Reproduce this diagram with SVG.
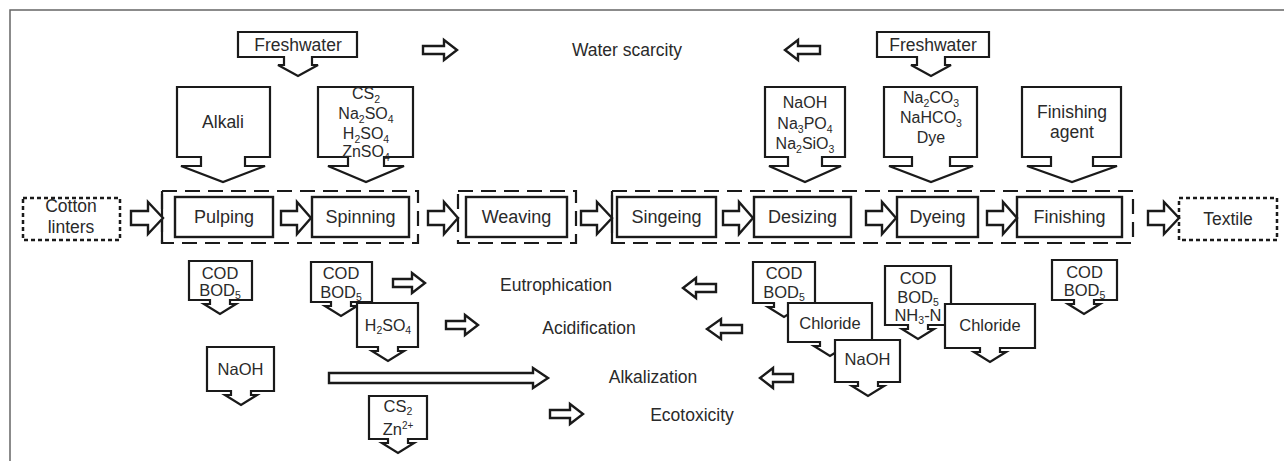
<svg xmlns="http://www.w3.org/2000/svg" width="1284" height="461" viewBox="0 0 1284 461">
<style>
.t{font-family:"Liberation Sans",Arial,sans-serif;fill:#2a2a2a;text-anchor:middle}
.f17{font-size:17.5px}
.f18{font-size:18px}
.f16{font-size:16px}
.f165{font-size:16.5px}
.sub{font-size:10.5px}
.sup{font-size:10px}
.box{fill:#fff;stroke:#1a1a1a;stroke-width:2.4}
.call{fill:#fff;stroke:#1a1a1a;stroke-width:2.2;stroke-linejoin:miter}
.grp{fill:none;stroke:#1a1a1a;stroke-width:2.2;stroke-dasharray:15 8}
.solid{fill:none;stroke:#1a1a1a;stroke-width:2.2}
.dot{fill:#fff;stroke:#1a1a1a;stroke-width:2.5;stroke-dasharray:4 3}
.arr{fill:#fff;stroke:#1a1a1a;stroke-width:2.4;stroke-linejoin:miter}
</style>
<rect width="1284" height="461" fill="#fff"/>
<polyline points="10,461 10,10 1284,10" fill="none" stroke="#666" stroke-width="1.5"/>

<!-- groups -->
<g id="group-1">
<rect class="grp" x="162" y="191" width="256" height="52"/>
<line class="solid" x1="162" y1="191" x2="162" y2="243"/>
</g>
<g id="group-2">
<rect class="grp" x="458" y="191" width="118" height="52"/>
</g>
<g id="group-3">
<rect class="grp" x="612" y="191" width="521" height="52"/>
<line class="solid" x1="612" y1="191" x2="612" y2="243"/>
</g>

<!-- top inputs -->
<g id="freshwater-left">
<path class="call" d="M238,32 H357 V57 H312 V65 H318 L298,76 L278,65 H284 V57 H238 Z"/>
<text class="t f17" x="298" y="51">Freshwater</text>
</g>
<g id="freshwater-right">
<path class="call" d="M877,32 H989 V57 H945 V65 H951 L931,76 L911,65 H917 V57 H877 Z"/>
<text class="t f17" x="933" y="51">Freshwater</text>
</g>
<g id="alkali">
<path class="call" d="M177,87 H270 V157 H245 V166 H265 L223,182 L181,166 H201 V157 H177 Z"/>
<text class="t f17" x="223" y="128">Alkali</text>
</g>
<g id="spinning-chem">
<path class="call" d="M318,87 H413 V157 H384 V166 H404 L366,182 L328,166 H348 V157 H318 Z"/>
<text class="t f16" x="366" y="99">CS<tspan class="sub" dy="4">2</tspan></text>
<text class="t f16" x="366" y="119">Na<tspan class="sub" dy="4">2</tspan><tspan dy="-4">SO</tspan><tspan class="sub" dy="4">4</tspan></text>
<text class="t f16" x="366" y="139">H<tspan class="sub" dy="4">2</tspan><tspan dy="-4">SO</tspan><tspan class="sub" dy="4">4</tspan></text>
<text class="t f16" x="366" y="157">ZnSO<tspan class="sub" dy="4">4</tspan></text>
</g>
<g id="desizing-chem">
<path class="call" d="M765,87 H845 V157 H822 V166 H841 L805,182 L769,166 H788 V157 H765 Z"/>
<text class="t f16" x="805" y="108">NaOH</text>
<text class="t f16" x="805" y="129">Na<tspan class="sub" dy="4">3</tspan><tspan dy="-4">PO</tspan><tspan class="sub" dy="4">4</tspan></text>
<text class="t f16" x="805" y="149">Na<tspan class="sub" dy="4">2</tspan><tspan dy="-4">SiO</tspan><tspan class="sub" dy="4">3</tspan></text>
</g>
<g id="dyeing-chem">
<path class="call" d="M884,87 H977 V157 H950 V166 H973 L931,182 L889,166 H912 V157 H884 Z"/>
<text class="t f16" x="931" y="103">Na<tspan class="sub" dy="4">2</tspan><tspan dy="-4">CO</tspan><tspan class="sub" dy="4">3</tspan></text>
<text class="t f16" x="931" y="123">NaHCO<tspan class="sub" dy="4">3</tspan></text>
<text class="t f16" x="931" y="143">Dye</text>
</g>
<g id="finishing-agent">
<path class="call" d="M1022,87 H1121 V157 H1093 V166 H1117 L1072,182 L1027,166 H1051 V157 H1022 Z"/>
<text class="t f17" x="1072" y="118">Finishing</text>
<text class="t f17" x="1072" y="138">agent</text>
</g>

<!-- process row -->
<g id="cotton-linters">
<rect class="dot" x="23" y="198" width="97" height="42"/>
<text class="t f17" x="71" y="212">Cotton</text>
<text class="t f17" x="71" y="233">linters</text>
</g>
<g id="pulping"><rect class="box" x="175" y="197" width="98" height="40"/><text class="t f18" x="224" y="223">Pulping</text></g>
<g id="spinning"><rect class="box" x="312" y="197" width="97" height="40"/><text class="t f18" x="360.5" y="223">Spinning</text></g>
<g id="weaving"><rect class="box" x="466" y="197" width="101" height="40"/><text class="t f18" x="516.5" y="223">Weaving</text></g>
<g id="singeing"><rect class="box" x="617" y="197" width="99" height="40"/><text class="t f18" x="666.5" y="223">Singeing</text></g>
<g id="desizing"><rect class="box" x="754" y="197" width="97" height="40"/><text class="t f18" x="802.5" y="223">Desizing</text></g>
<g id="dyeing"><rect class="box" x="897" y="197" width="81" height="40"/><text class="t f18" x="937.5" y="223">Dyeing</text></g>
<g id="finishing"><rect class="box" x="1017" y="197" width="105" height="40"/><text class="t f18" x="1069.5" y="223">Finishing</text></g>
<g id="textile">
<rect class="dot" x="1179" y="198" width="98" height="42"/>
<text class="t f17" x="1228" y="225">Textile</text>
</g>

<!-- impact labels -->
<g id="water-scarcity"><text class="t f17" x="627" y="56">Water scarcity</text></g>
<g id="eutrophication"><text class="t f17" x="556" y="291">Eutrophication</text></g>
<g id="acidification"><text class="t f17" x="589" y="334">Acidification</text></g>
<g id="alkalization"><text class="t f17" x="653" y="383">Alkalization</text></g>
<g id="ecotoxicity"><text class="t f17" x="692" y="421">Ecotoxicity</text></g>

<!-- emissions -->
<g id="cod-pulping">
<path class="call" d="M189,261 H252 V300 H230 V304 H236 L220,314 L204,304 H210 V300 H189 Z"/>
<text class="t f165" x="220" y="279">COD</text>
<text class="t f165" x="220" y="296">BOD<tspan class="sub" dy="3">5</tspan></text>
</g>
<g id="naoh-pulping">
<path class="call" d="M207,347 H274 V391 H251 V395 H257 L241,405 L225,395 H231 V391 H207 Z"/>
<text class="t f165" x="240.5" y="375">NaOH</text>
</g>
<g id="cod-spinning">
<path class="call" d="M311,262 H372 V302 H351 V306 H357 L341,316 L325,306 H331 V302 H311 Z"/>
<text class="t f165" x="341" y="279">COD</text>
<text class="t f165" x="341" y="298">BOD<tspan class="sub" dy="3">5</tspan></text>
</g>
<g id="h2so4-spinning">
<path class="call" d="M357,303 H418 V347 H398 V351 H404 L388,361 L372,351 H378 V347 H357 Z"/>
<text class="t f16" x="388" y="331">H<tspan class="sub" dy="3">2</tspan><tspan dy="-3">SO</tspan><tspan class="sub" dy="3">4</tspan></text>
</g>
<g id="cs2-spinning">
<path class="call" d="M369,396 H427 V439 H408 V443 H414 L398,453 L382,443 H388 V439 H369 Z"/>
<text class="t f165" x="398" y="412">CS<tspan class="sub" dy="3">2</tspan></text>
<text class="t f165" x="398" y="435">Zn<tspan class="sup" dy="-6">2+</tspan></text>
</g>
<g id="cod-desizing">
<path class="call" d="M753,262 H815 V303 H794 V307 H800 L784,317 L768,307 H774 V303 H753 Z"/>
<text class="t f165" x="784" y="279">COD</text>
<text class="t f165" x="784" y="298">BOD<tspan class="sub" dy="3">5</tspan></text>
</g>
<g id="chloride-desizing">
<path class="call" d="M788,303 H872 V342 H840 V346 H846 L830,356 L814,346 H820 V342 H788 Z"/>
<text class="t f165" x="830" y="329">Chloride</text>
</g>
<g id="naoh-desizing">
<path class="call" d="M835,340 H900 V382 H878 V386 H884 L868,396 L852,386 H858 V382 H835 Z"/>
<text class="t f165" x="867.5" y="365">NaOH</text>
</g>
<g id="cod-dyeing">
<path class="call" d="M885,266 H951 V325 H928 V329 H934 L918,339 L902,329 H908 V325 H885 Z"/>
<text class="t f165" x="918" y="284">COD</text>
<text class="t f165" x="918" y="303">BOD<tspan class="sub" dy="3">5</tspan></text>
<text class="t f165" x="918" y="321">NH<tspan class="sub" dy="3">3</tspan><tspan dy="-3">-N</tspan></text>
</g>
<g id="chloride-dyeing">
<path class="call" d="M945,304 H1035 V348 H1000 V352 H1006 L990,362 L974,352 H980 V348 H945 Z"/>
<text class="t f165" x="990" y="331">Chloride</text>
</g>
<g id="cod-finishing">
<path class="call" d="M1052,260 H1117 V300 H1094 V304 H1100 L1084,314 L1068,304 H1074 V300 H1052 Z"/>
<text class="t f165" x="1084.5" y="278">COD</text>
<text class="t f165" x="1084.5" y="296">BOD<tspan class="sub" dy="3">5</tspan></text>
</g>

<!-- connectors -->
<g id="connectors">
<path class="arr" d="M423,46 H444 V40 L457,50 L444,60 V54 H423 Z"/>
<path class="arr" d="M820,46 H798 V40 L785,50 L798,60 V54 H820 Z"/>
<path class="arr" d="M131,211 H148 V202 L163,218 L148,234 V225 H131 Z"/>
<path class="arr" d="M281,211 H297 V202 L311,218 L297,234 V225 H281 Z"/>
<path class="arr" d="M428,211 H444 V202 L458,218 L444,234 V225 H428 Z"/>
<path class="arr" d="M581,211 H597 V202 L612,218 L597,234 V225 H581 Z"/>
<path class="arr" d="M723,211 H739 V202 L753,218 L739,234 V225 H723 Z"/>
<path class="arr" d="M866,211 H882 V202 L896,218 L882,234 V225 H866 Z"/>
<path class="arr" d="M987,211 H1003 V202 L1017,218 L1003,234 V225 H987 Z"/>
<path class="arr" d="M1148,211 H1164 V202 L1179,218 L1164,234 V225 H1148 Z"/>
<path class="arr" d="M393,279 H412 V273 L425,283 L412,293 V287 H393 Z"/>
<path class="arr" d="M716,284 H696 V278 L683,288 L696,298 V292 H716 Z"/>
<path class="arr" d="M446,321 H465 V315 L478,325 L465,335 V329 H446 Z"/>
<path class="arr" d="M742,325 H721 V319 L707,329 L721,339 V333 H742 Z"/>
<path class="arr" d="M329,373 H533 V368 L548,378 L533,388 V383 H329 Z"/>
<path class="arr" d="M793,374 H773 V368 L760,378 L773,388 V382 H793 Z"/>
<path class="arr" d="M550,410 H570 V404 L583,414 L570,424 V418 H550 Z"/>
</g>
</svg>
